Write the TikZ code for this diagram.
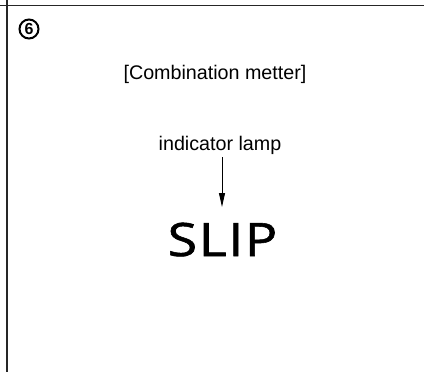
\documentclass[tikz,border=0pt]{standalone}
\usepackage{fontspec}
\setmainfont{Liberation Sans}
\newfontfamily\slipfont[LetterSpace=3,FakeBold=1.2]{Open Sans}
\usetikzlibrary{arrows.meta}
\tikzset{
  frameline/.style={line width=1.3pt, draw=black!85},
  lbl/.style={font=\fontsize{19.7}{22}\selectfont, inner sep=0pt, anchor=base},
  pointer/.style={line width=0.9pt, -{Triangle[length=14pt,width=6pt]}},
}
\begin{document}
\begin{tikzpicture}[x=1pt,y=-1pt]
\useasboundingbox (0,0) rectangle (424,372);
\fill[white] (0,0) rectangle (424,372);
% frame lines
\coordinate (hl) at (0,5);
\coordinate (hr) at (424,5);
\coordinate (vt) at (7,0);
\coordinate (vb) at (7,372);
\draw[frameline, line width=1pt] (hl) -- (hr);
\draw[frameline] (vt) -- (vb);
% circled number
\node[circle, draw, line width=2pt, minimum size=19pt, inner sep=0pt,
      font=\fontsize{16}{16}\selectfont\bfseries] (num) at (29,29) {6};
% texts
\node[lbl] (title) at (215,79.5) {[Combination metter]};
\node[lbl] (label) at (220,150) {indicator lamp};
\node[inner sep=0pt, anchor=base, xscale=1.17,
      font=\fontsize{46}{46}\selectfont\slipfont] (slip) at (222.5,256) {SLIP};
% arrow
\coordinate (atop) at (222,157);
\coordinate (abot) at (222,207);
\draw[pointer] (atop) -- (abot);
\end{tikzpicture}
\end{document}
